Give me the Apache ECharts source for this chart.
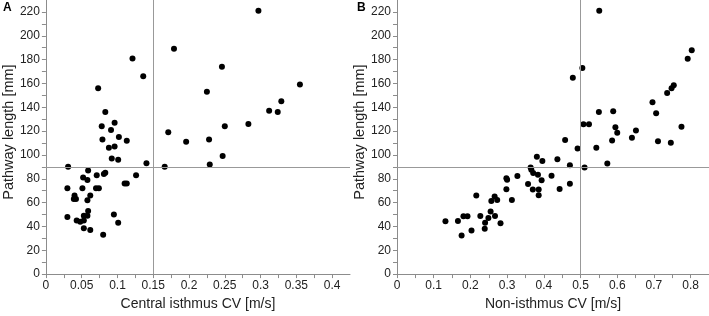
<!DOCTYPE html>
<html>
<head>
<meta charset="utf-8">
<script src="https://cdn.jsdelivr.net/npm/echarts@6/dist/echarts.min.js"></script>
<style>
html,body{margin:0;padding:0;background:#fff;}
#chart{width:709px;height:316px;}
</style>
</head>
<body>
<div id="chart"></div>
<script>
// Panel A: central isthmus CV [m/s] vs pathway length [mm]
const aCV = [0.073,0.083,0.078,0.096,0.091,0.102,0.079,0.113,0.088,0.096,0.092,0.101,0.031,0.059,0.083,0.081,0.071,0.126,0.052,0.058,0.110,0.113,0.030,0.051,0.070,0.074,0.040,0.062,0.039,0.042,0.058,0.059,0.053,0.058,0.030,0.095,0.043,0.048,0.053,0.101,0.053,0.062,0.080,
  0.1405,0.166,0.121,0.136,0.179,0.171,0.297,0.246,0.225,0.355,0.329,0.312,0.324,0.283,0.250,0.196,0.228,0.247,0.229];
const aLen = [156,136,124,127,121,115,113,112,106,107,97,96,90,87,85,84,83,83,81,79,76,76,72,72,72,72,66,66,63,63,62,53,49,49,48,50,45,44,45,43,38.5,37,33,
  93,90,181,166,189,119,221,174,153,159,145,137,136,126,124,111,113,99,92];

// Panel B: non-isthmus CV [m/s] vs pathway length [mm]
const bCV = [0.132,0.166,0.181,0.192,0.176,0.203,0.216,0.227,0.240,0.239,0.249,0.255,0.267,0.282,0.257,0.266,0.273,0.298,0.300,0.298,0.313,0.328,
  0.357,0.364,0.366,0.371,0.384,0.394,0.370,0.386,0.386,0.381,0.396,0.421,0.437,0.443,0.471,0.471,0.511,0.458,0.492,0.543,0.573,0.479,0.505,0.551,0.550,0.508,0.523,0.589,0.595,0.600,0.651,0.640,0.586,0.696,0.706,0.711,0.746,0.736,0.748,0.754,0.775,0.792,0.803];
const bLen = [44.3,44.6,48.6,48.6,32.4,36.6,65.9,48.8,43,38,47.1,52.6,48.8,42.7,61.3,65.1,62.1,80.5,79.2,71.2,62.1,82.3,
  75.6,89.5,87.5,84.8,83.4,78.7,70.9,70.9,66.2,98.4,95,82.6,96.4,71.5,75.9,91.4,89.5,112.5,105.3,106.1,92.8,164.8,172.9,221,136,125.8,125.8,136.6,123.3,118.6,120.5,114.5,112.2,144.1,134.9,111.4,110.3,151.9,156,158.5,123.6,180.7,187.9];

// Reference (cut-off) lines
const lenCut = 90;
const aCut = 0.15;
const bCut = 0.5;

// Titles
const panelLabels = ['A', 'B'];
const yName = 'Pathway length [mm]';
const xNames = ['Central isthmus CV [m/s]', 'Non-isthmus CV [m/s]'];

const FONT = 'Liberation Sans, Arial, sans-serif';
const AX = '#8c8c8c';
const TXT = '#222';

function fmtStep(step) {
  return function (v) {
    const r = v / step;
    if (Math.abs(r - Math.round(r)) > 1e-6) return '';
    return String(Math.round(v * 1000) / 1000);
  };
}

function xAxisCfg(idx, max, interval, labelStep) {
  return {
    type: 'value', gridIndex: idx, min: 0, max: max, interval: interval,
    name: xNames[idx], nameLocation: 'middle', nameGap: 18,
    nameTextStyle: {fontFamily: FONT, fontSize: 14, color: TXT},
    axisLine: {show: true, onZero: false, lineStyle: {color: AX, width: 1}},
    axisTick: {show: true, inside: false, length: 4, lineStyle: {color: AX}},
    axisLabel: {fontFamily: FONT, fontSize: 12, color: TXT, margin: 6, formatter: fmtStep(labelStep), showMaxLabel: false},
    splitLine: {show: false}
  };
}
function yAxisCfg(idx) {
  return {
    type: 'value', gridIndex: idx, min: 0, max: 230, interval: 10,
    name: yName, nameLocation: 'middle', nameGap: 27,
    nameTextStyle: {fontFamily: FONT, fontSize: 14.5, color: TXT, padding: [0, 0, 0, 10]},
    axisLine: {show: true, onZero: false, lineStyle: {color: AX, width: 1}},
    axisTick: {show: true, inside: false, length: 4, lineStyle: {color: AX}},
    axisLabel: {fontFamily: FONT, fontSize: 12, color: TXT, margin: 6, formatter: fmtStep(20), showMaxLabel: false},
    splitLine: {show: false}
  };
}
function series(idx, xs, ys, cut) {
  return {
    type: 'scatter', xAxisIndex: idx, yAxisIndex: idx,
    data: xs.map((x, i) => [x, ys[i]]),
    symbolSize: 6,
    itemStyle: {color: '#000', opacity: 1},
    silent: true,
    markLine: {
      silent: true, symbol: ['none', 'none'], label: {show: false},
      lineStyle: {color: '#999', width: 1, type: 'solid'},
      animation: false,
      data: [{yAxis: lenCut}, {xAxis: cut}]
    }
  };
}

const chart = echarts.init(document.getElementById('chart'), null, {renderer: 'canvas'});
chart.setOption({
  animation: false,
  backgroundColor: '#fff',
  grid: [
    {left: 42, top: 0, width: 308, height: 277},
    {left: 397, top: 0, width: 312, height: 277}
  ],
  xAxis: [xAxisCfg(0, 0.425, 0.025, 0.05), xAxisCfg(1, 0.85, 0.05, 0.1)],
  yAxis: [yAxisCfg(0), yAxisCfg(1)],
  series: [series(0, aCV, aLen, aCut), series(1, bCV, bLen, bCut)],
  graphic: [
    {type: 'text', left: 3, top: 2, style: {text: panelLabels[0], font: 'bold 12px ' + FONT, fill: '#000'}},
    {type: 'text', left: 357, top: 2, style: {text: panelLabels[1], font: 'bold 12px ' + FONT, fill: '#000'}}
  ]
});
</script>
</body>
</html>
